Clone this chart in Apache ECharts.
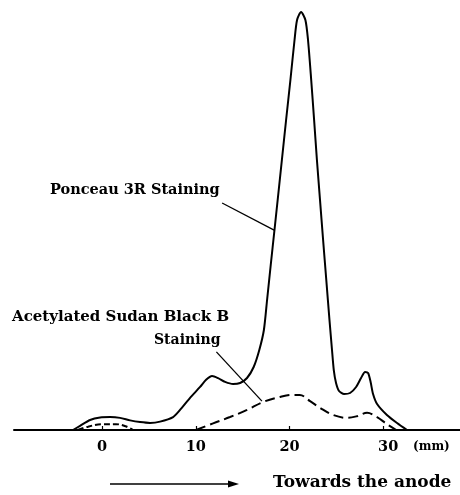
<!DOCTYPE html>
<html>
<head>
<meta charset="utf-8">
<script src="https://cdn.jsdelivr.net/npm/echarts@6/dist/echarts.min.js"></script>
<style>
html,body{margin:0;padding:0;background:#fff;}
#c{width:460px;height:495px;}
</style>
</head>
<body>
<div id="c"></div>
<script>
// Migration distance (mm) and relative staining intensity (arbitrary units, main peak = 100)
const ponceauX = [-3.1,-2.35,-1.28,-0.21,0.85,1.92,2.99,4.06,5.12,6.19,7.58,8.32,9.39,10.46,11.1,11.74,12.38,13.13,13.98,14.73,15.47,16.18,16.78,17.27,17.61,18.00,18.40,18.74,19.19,19.64,20.10,20.54,20.81,21.24,21.70,21.98,22.32,22.63,22.93,23.26,23.59,23.93,24.27,24.54,24.73,24.97,25.29,25.83,26.47,27.11,27.64,28.07,28.39,28.66,28.92,29.35,30.4,31.48,32.55];
const ponceauY = [0,1.0,2.4,3.0,3.1,2.9,2.3,1.9,1.7,2.0,3.1,4.8,7.7,10.3,12.0,12.9,12.4,11.5,11.0,11.24,12.44,15.07,19.14,23.92,31.10,39.47,47.85,55.02,64.59,74.16,83.73,93.30,98.09,100,98.09,93.30,83.73,74.16,64.59,55.02,45.45,35.89,26.32,19.14,14.35,11.24,9.33,8.61,8.85,10.29,12.44,13.88,13.64,11.48,8.61,6.22,3.59,1.67,0];
const sudanX = [10.03,11.85,13.66,15.47,17.18,19.0,20.28,21.1,22.2,23.27,24.65,26.15,27.2,28.28,29.35,30.4,31.4];
const sudanY = [0,1.6,3.1,4.8,6.7,7.9,8.4,8.4,6.9,5.3,3.6,2.9,3.3,4.1,3.1,1.4,0];
const sudanMinorX = [-2.6,-1.5,0,1.5,2.5,3.3];
const sudanMinorY = [0,0.8,1.4,1.4,0.9,0];
const tickValues = [0,10,20,30];
const labels = {
  ponceau: 'Ponceau 3R Staining',
  sudan1: 'Acetylated Sudan Black B',
  sudan2: 'Staining',
  unit: '(mm)',
  direction: 'Towards the anode'
};

const zip = (xs, ys) => xs.map((x, i) => [x, ys[i]]);
const FONT = '"DejaVu Serif", serif';

const chart = echarts.init(document.getElementById('c'), null, {renderer: 'canvas'});
chart.setOption({
  animation: false,
  backgroundColor: '#fff',
  grid: {left: 14, right: 0, top: 12, bottom: 65, containLabel: false, outerBoundsMode: 'none'},
  xAxis: {
    type: 'value', min: -9.4, max: 38.2,
    axisLine: {show: true, lineStyle: {color: '#000', width: 2}},
    axisTick: {show: true, inside: true, length: 4, customValues: tickValues, lineStyle: {color: '#000', width: 1.2}},
    axisLabel: {
      customValues: tickValues, margin: 10,
      formatter: v => v === 30 ? '{o|30}' : '{n|' + v + '}',
      rich: {
        n: {fontFamily: FONT, fontWeight: 'bold', fontSize: 14.5, color: '#000'},
        o: {fontFamily: FONT, fontWeight: 'bold', fontSize: 14.5, color: '#000', padding: [0, 0, 0, 10]}
      }
    },
    splitLine: {show: false}
  },
  yAxis: {
    type: 'value', min: 0, max: 100, show: false,
    splitLine: {show: false}
  },
  series: [
    {
      name: labels.ponceau, type: 'line', data: zip(ponceauX, ponceauY),
      smooth: 0.25, symbol: 'none', lineStyle: {color: '#000', width: 2},
      markLine: {
        silent: true, symbol: ['none', 'arrow'], symbolSize: [0, 8],
        label: {show: false},
        lineStyle: {color: '#000', width: 1.3, type: 'solid'},
        data: [
          [{coord: [12.81, 54.3]}, {coord: [18.36, 47.8]}],
          [{coord: [12.2, 18.7], symbol: 'none'}, {coord: [17.06, 6.9], symbol: 'none'}]
        ]
      }
    },
    {
      name: labels.sudan1, type: 'line', data: zip(sudanX, sudanY),
      smooth: 0.35, symbol: 'none', lineStyle: {color: '#000', width: 2, type: [10, 5]}
    },
    {
      name: labels.sudan1 + ' minor', type: 'line', data: zip(sudanMinorX, sudanMinorY),
      smooth: 0.35, symbol: 'none', lineStyle: {color: '#000', width: 2, type: [6, 3]}
    }
  ],
  graphic: [
    {type: 'text', x: 50, y: 190, style: {text: labels.ponceau, fontFamily: FONT, fontWeight: 'bold', fontSize: 14.5, fill: '#000', textVerticalAlign: 'middle', verticalAlign: 'middle'}},
    {type: 'text', x: 12, y: 317, style: {text: labels.sudan1, fontFamily: FONT, fontWeight: 'bold', fontSize: 15, fill: '#000', textVerticalAlign: 'middle', verticalAlign: 'middle'}},
    {type: 'text', x: 154, y: 340, style: {text: labels.sudan2, fontFamily: FONT, fontWeight: 'bold', fontSize: 14, fill: '#000', textVerticalAlign: 'middle', verticalAlign: 'middle'}},
    {type: 'text', x: 413, y: 447, style: {text: labels.unit, fontFamily: FONT, fontWeight: 'bold', fontSize: 12, fill: '#000', textVerticalAlign: 'middle', verticalAlign: 'middle'}},
    {type: 'text', x: 273, y: 483, style: {text: labels.direction, fontFamily: FONT, fontWeight: 'bold', fontSize: 17, fill: '#000', textVerticalAlign: 'middle', verticalAlign: 'middle'}},
    {type: 'line', shape: {x1: 110, y1: 484, x2: 232, y2: 484}, style: {stroke: '#000', lineWidth: 1.5}},
    {type: 'polygon', shape: {points: [[239, 484], [228, 480.5], [228, 487.5]]}, style: {fill: '#000'}}
  ]
});
</script>
</body>
</html>
